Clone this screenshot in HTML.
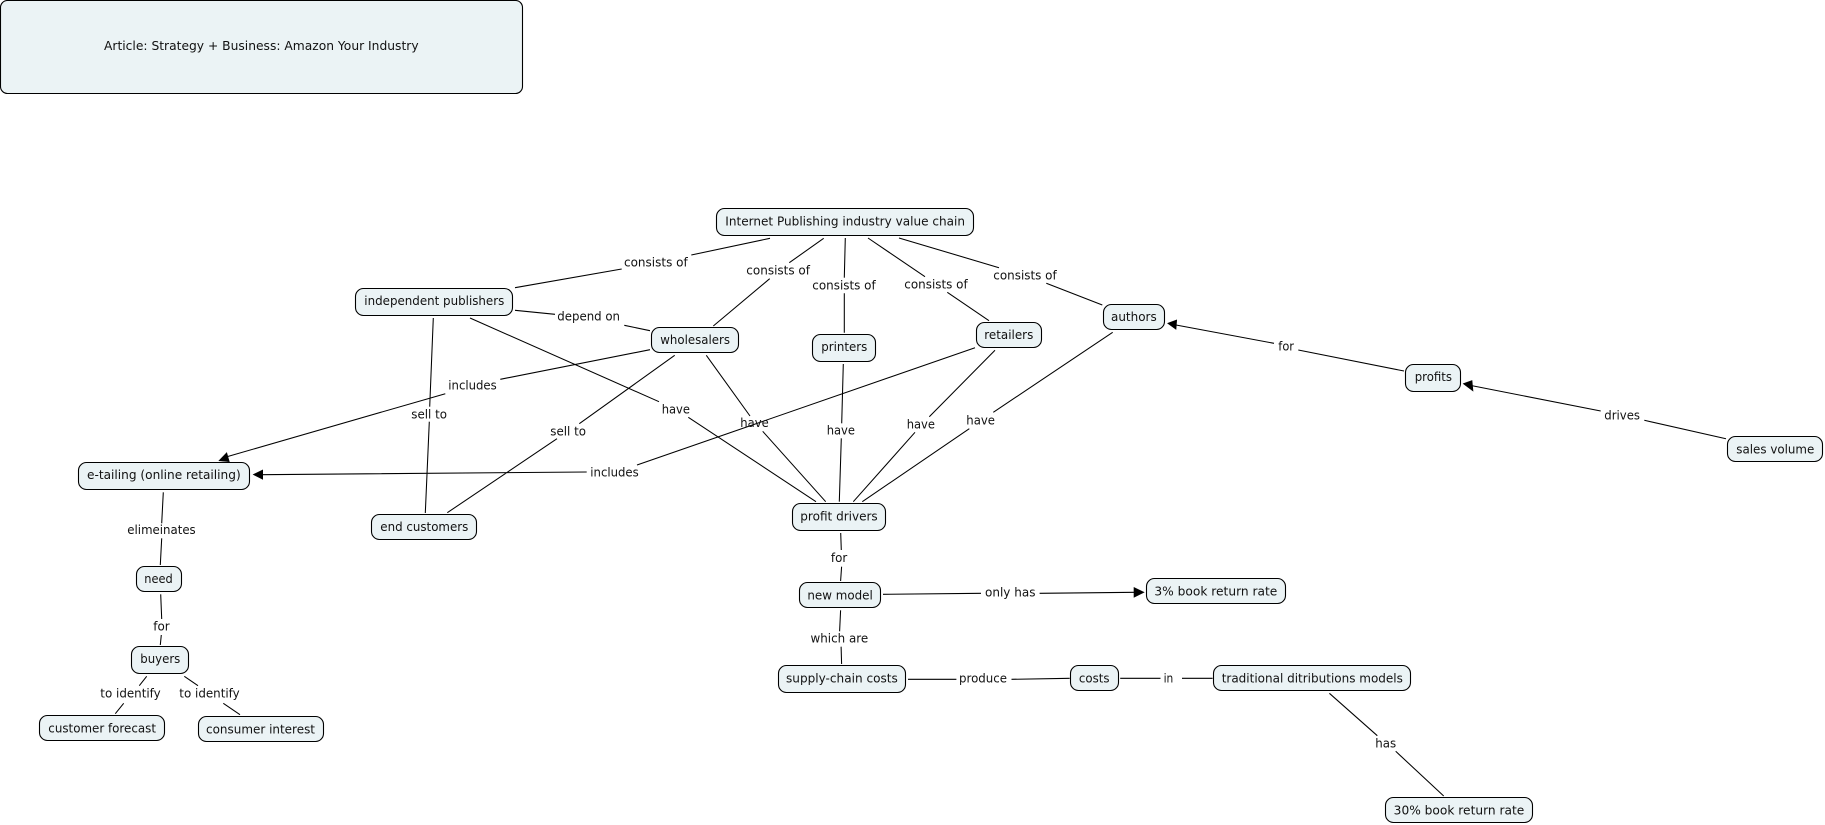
<!DOCTYPE html>
<html><head><meta charset="utf-8"><style>
html,body{margin:0;padding:0;background:#fff;width:1825px;height:825px;overflow:hidden}
svg{display:block}
rect{fill:#ebf3f5;stroke:#000;stroke-width:1.1}
path.l{fill:none;stroke:#000;stroke-width:1.05}
path.a{fill:#000;stroke:#000;stroke-width:.6}
text{font-family:"DejaVu Sans","Liberation Sans",sans-serif;font-size:12px;fill:#111}
</style></head><body>
<svg xmlns="http://www.w3.org/2000/svg" width="1825" height="825" viewBox="0 0 1825 825">
<path class="l" d="M770 238.3L691.3 255M621.7 269L515 287.7
M823.7 238.3L789.3 262.7M769.7 278.7L713.3 326
M845.3 238L844.3 277.7M844.3 293.3V332.7
M868 238L925 276.7M947.3 292.3L989 320.7
M899 238L999 267.7M1046.3 283.3L1102.3 305
M515 310.3L555 314.3M624.3 325.3L650 330.7
M433.3 318L429.7 406.7M429.3 421.7L425.3 513
M470 318L659 401.7M688.3 417.3L816 501.7
M650 349.7L500.3 379.3M445.3 393.7L226 457
M674.7 355.3L579.3 423.7M557 438.7L447.3 512.7
M706.3 355.3L750 416M762.7 431.3L825.7 501.7
M975 347.7L637 465M586.7 472L262 474.7
M843.3 364L841.7 423.3M841.3 438.3L839.3 501.7
M995 350.3L929.3 416.7M915 432.3L853.3 501.7
M1112.7 332.3L993.3 412.3M969.3 428.7L862.3 501.7
M1176 325L1274 343.3M1298.3 350L1404 371
M1471 385.5L1600.7 411M1644.3 420.3L1726 438.7
M840.7 533L841.3 550M841.6 566.7L840.6 581
M840.6 610.3L839.6 631.3M841.1 646.7L841.6 664
M883 594.3L981 593.3M1039.6 593.3L1134 592.3
M908 679.3H956.4M1011.5 679.3L1069.7 678.3
M1120.2 678.3H1160.5M1182 678.3H1212.6
M1329.4 693.3L1377.3 735.7M1395.7 751.3L1443.7 796
M163.3 492.3L161.7 523.3M161.7 538.3L160.3 565
M160.7 594.3L161.7 619M161.3 635L160.3 645
M146.7 676.3L139.3 685.7M123.7 703.3L115.3 713.7
M184.3 676.3L198 685.7M223.3 703.3L240 714.7"/>
<path class="a" d="M219 460.7L226.7 452.7L229.3 461.7Z"/>
<path class="a" d="M253.3 474.5L262.7 470V479.3Z"/>
<path class="a" d="M1167.7 323.3L1176.7 320L1176 329.3Z"/>
<path class="a" d="M1463.3 383.7L1472 380.5L1473 391Z"/>
<path class="a" d="M1144 592.3L1134 587.5V597.3Z"/>

<rect x="0.5" y="0.5" width="522" height="93" rx="7"/>
<rect x="716.5" y="208.5" width="257" height="27" rx="8"/>
<rect x="355.5" y="288.5" width="157" height="27" rx="8"/>
<rect x="651.5" y="327.5" width="87" height="25" rx="8"/>
<rect x="812.5" y="334.5" width="63" height="27" rx="8"/>
<rect x="976.5" y="322.5" width="65" height="25" rx="8"/>
<rect x="1103.5" y="304.5" width="61" height="25" rx="8"/>
<rect x="1405.5" y="364.5" width="55" height="27" rx="8"/>
<rect x="1727.5" y="436.5" width="95" height="25" rx="8"/>
<rect x="78.5" y="462.5" width="171" height="27" rx="8"/>
<rect x="371.5" y="514.5" width="105" height="25" rx="8"/>
<rect x="792.5" y="503.5" width="93" height="27" rx="8"/>
<rect x="136.5" y="566.5" width="45" height="25" rx="8"/>
<rect x="131.5" y="646.5" width="57" height="27" rx="8"/>
<rect x="39.5" y="715.5" width="125" height="25" rx="8"/>
<rect x="198.5" y="716.5" width="125" height="25" rx="8"/>
<rect x="799.5" y="582.5" width="81" height="25" rx="8"/>
<rect x="1146.5" y="578.5" width="139" height="25" rx="8"/>
<rect x="778.5" y="665.5" width="127" height="27" rx="8"/>
<rect x="1070.5" y="665.5" width="48" height="25" rx="8"/>
<rect x="1213.5" y="665.5" width="197" height="25" rx="8"/>
<rect x="1385.5" y="797.5" width="147" height="25" rx="8"/>

<text x="104" y="50" textLength="314.6" lengthAdjust="spacingAndGlyphs">Article: Strategy + Business: Amazon Your Industry</text>
<text x="725.3" y="225.3" textLength="239.7" lengthAdjust="spacingAndGlyphs">Internet Publishing industry value chain</text>
<text x="364.3" y="305" textLength="140" lengthAdjust="spacingAndGlyphs">independent publishers</text>
<text x="660.3" y="344" textLength="69.7" lengthAdjust="spacingAndGlyphs">wholesalers</text>
<text x="821.3" y="351" textLength="46" lengthAdjust="spacingAndGlyphs">printers</text>
<text x="984.3" y="339" textLength="49" lengthAdjust="spacingAndGlyphs">retailers</text>
<text x="1111" y="321" textLength="45.7" lengthAdjust="spacingAndGlyphs">authors</text>
<text x="1414.7" y="381" textLength="37.3" lengthAdjust="spacingAndGlyphs">profits</text>
<text x="1736.3" y="453.3" textLength="78" lengthAdjust="spacingAndGlyphs">sales volume</text>
<text x="87" y="479" textLength="153.7" lengthAdjust="spacingAndGlyphs">e-tailing (online retailing)</text>
<text x="380.3" y="531" textLength="88" lengthAdjust="spacingAndGlyphs">end customers</text>
<text x="800.3" y="520.3" textLength="77.4" lengthAdjust="spacingAndGlyphs">profit drivers</text>
<text x="144.3" y="583" textLength="28.4" lengthAdjust="spacingAndGlyphs">need</text>
<text x="140.3" y="663" textLength="40" lengthAdjust="spacingAndGlyphs">buyers</text>
<text x="48.3" y="732.3" textLength="107.7" lengthAdjust="spacingAndGlyphs">customer forecast</text>
<text x="206" y="733.6" textLength="109" lengthAdjust="spacingAndGlyphs">consumer interest</text>
<text x="807.4" y="599.3" textLength="65.4" lengthAdjust="spacingAndGlyphs">new model</text>
<text x="1154.4" y="595.3" textLength="122.9" lengthAdjust="spacingAndGlyphs">3% book return rate</text>
<text x="786" y="682.3" textLength="111.8" lengthAdjust="spacingAndGlyphs">supply-chain costs</text>
<text x="1078.9" y="682.3" textLength="30.6" lengthAdjust="spacingAndGlyphs">costs</text>
<text x="1221.7" y="682.3" textLength="181.2" lengthAdjust="spacingAndGlyphs">traditional ditributions models</text>
<text x="1393.7" y="814.3" textLength="130.6" lengthAdjust="spacingAndGlyphs">30% book return rate</text>

<text x="624" y="266.3" textLength="63.7" lengthAdjust="spacingAndGlyphs">consists of</text>
<text x="746.3" y="274.3" textLength="63.7" lengthAdjust="spacingAndGlyphs">consists of</text>
<text x="812.3" y="289.3" textLength="63.4" lengthAdjust="spacingAndGlyphs">consists of</text>
<text x="904.3" y="288.3" textLength="63.4" lengthAdjust="spacingAndGlyphs">consists of</text>
<text x="993.3" y="279.3" textLength="63.4" lengthAdjust="spacingAndGlyphs">consists of</text>
<text x="557.3" y="320.3" textLength="62.7" lengthAdjust="spacingAndGlyphs">depend on</text>
<text x="411.3" y="418.3" textLength="35.7" lengthAdjust="spacingAndGlyphs">sell to</text>
<text x="550.3" y="435.3" textLength="35.7" lengthAdjust="spacingAndGlyphs">sell to</text>
<text x="661.7" y="413.3" textLength="28.3" lengthAdjust="spacingAndGlyphs">have</text>
<text x="740.3" y="427" textLength="28.4" lengthAdjust="spacingAndGlyphs">have</text>
<text x="826.7" y="434.3" textLength="28.3" lengthAdjust="spacingAndGlyphs">have</text>
<text x="906.7" y="428.3" textLength="28.3" lengthAdjust="spacingAndGlyphs">have</text>
<text x="966.3" y="424.3" textLength="28.7" lengthAdjust="spacingAndGlyphs">have</text>
<text x="448.3" y="389.3" textLength="48.4" lengthAdjust="spacingAndGlyphs">includes</text>
<text x="590.3" y="476.3" textLength="48.4" lengthAdjust="spacingAndGlyphs">includes</text>
<text x="1278.3" y="350.6" textLength="15.7" lengthAdjust="spacingAndGlyphs">for</text>
<text x="1604.3" y="419.3" textLength="35.7" lengthAdjust="spacingAndGlyphs">drives</text>
<text x="830.9" y="562" textLength="16.3" lengthAdjust="spacingAndGlyphs">for</text>
<text x="810.5" y="642.3" textLength="57.7" lengthAdjust="spacingAndGlyphs">which are</text>
<text x="985" y="596.6" textLength="50.5" lengthAdjust="spacingAndGlyphs">only has</text>
<text x="959" y="682.3" textLength="48" lengthAdjust="spacingAndGlyphs">produce</text>
<text x="1163.6" y="682.3" textLength="9.7" lengthAdjust="spacingAndGlyphs">in</text>
<text x="1375.3" y="747.3" textLength="20.9" lengthAdjust="spacingAndGlyphs">has</text>
<text x="127.3" y="534" textLength="68.4" lengthAdjust="spacingAndGlyphs">elimeinates</text>
<text x="153.3" y="630.3" textLength="16.4" lengthAdjust="spacingAndGlyphs">for</text>
<text x="100.3" y="697.3" textLength="60.4" lengthAdjust="spacingAndGlyphs">to identify</text>
<text x="179.3" y="697.3" textLength="60.4" lengthAdjust="spacingAndGlyphs">to identify</text>
</svg>
</body></html>
